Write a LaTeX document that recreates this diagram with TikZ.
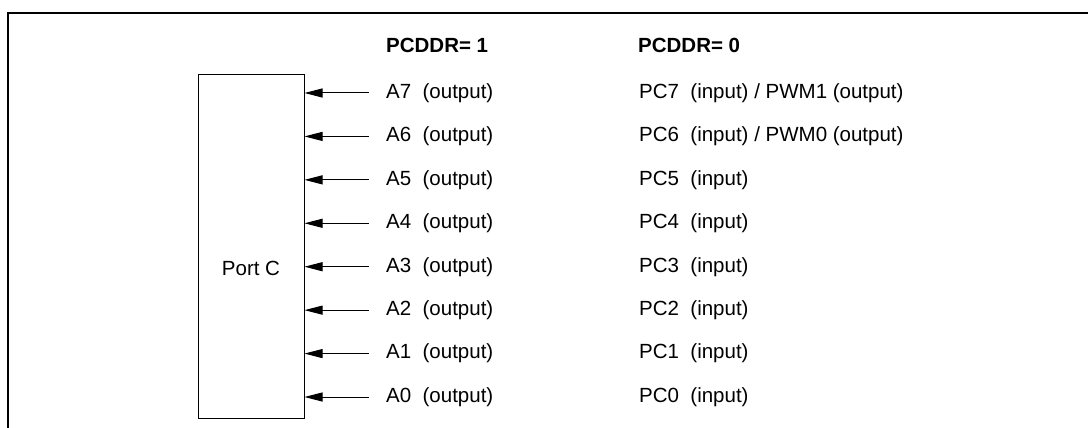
\documentclass[tikz,border=0pt]{standalone}
\usepackage{fontspec}
\setmainfont{Liberation Sans}
\usetikzlibrary{arrows.meta}
\begin{document}
\begin{tikzpicture}[x=1pt,y=-1pt,
  lbl/.style={anchor=west,inner sep=0pt,font=\fontsize{20.5}{24}\selectfont},
  hdr/.style={anchor=west,inner sep=0pt,font=\fontsize{20.5}{24}\selectfont\bfseries},
  sig/.style={-{Triangle[length=18pt,width=9pt]},line width=1pt},
  frame/.style={line width=2pt},
  portbox/.style={draw,line width=1pt,minimum width=106pt,minimum height=343pt,inner sep=0pt}]
\useasboundingbox (0,0) rectangle (1088,428);
\draw[frame] (8,428) -- (8,13) -- (1088,13);
\node[portbox] (portc) at (251,246.5) {};
\node[inner sep=0pt,font=\fontsize{20.5}{24}\selectfont] (portlbl) at (251,268) {Port C};
\node[hdr] (h1) at (386,45) {PCDDR= 1};
\node[hdr] (h0) at (638,45) {PCDDR= 0};
\foreach \i/\t [count=\k from 0] in {7/{PC7\ \ (input) / PWM1 (output)},6/{PC6\ \ (input) / PWM0 (output)},5/{PC5\ \ (input)},4/{PC4\ \ (input)},3/{PC3\ \ (input)},2/{PC2\ \ (input)},1/{PC1\ \ (input)},0/{PC0\ \ (input)}}{
  \node[lbl] (a\i) at (386,{93+\k*43.43}) {A\i\ \ (output)};
  \node[lbl] (pc\i) at (639,{93+\k*43.43}) {\t};
  \draw[sig] ([xshift=-17pt]a\i.west) -- (portc.east |- a\i.west);
}
\end{tikzpicture}
\end{document}
